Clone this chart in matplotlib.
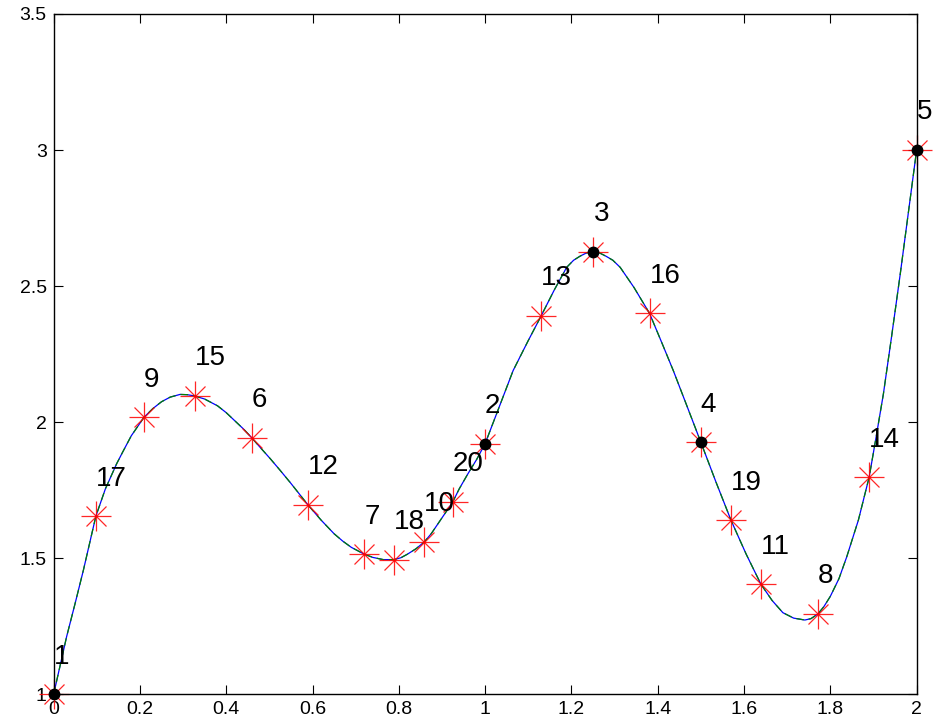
import matplotlib
matplotlib.use("Agg")
import matplotlib.pyplot as plt

plt.rcParams["font.family"] = ["Liberation Sans", "DejaVu Sans"]

# Curve
curve_x = [0.000, 0.015, 0.030, 0.050, 0.069, 0.098, 0.120, 0.146, 0.160, 0.180,
           0.2095, 0.230, 0.250, 0.270, 0.293, 0.310, 0.328, 0.350, 0.380, 0.400,
           0.420, 0.440, 0.459, 0.480, 0.502, 0.525, 0.550, 0.589, 0.620, 0.650,
           0.670, 0.690, 0.720, 0.740, 0.764, 0.789, 0.805, 0.820, 0.840, 0.859,
           0.875, 0.890, 0.905, 0.925, 0.940, 0.960, 0.980, 1.000, 1.030, 1.065,
           1.100, 1.130, 1.160, 1.189, 1.205, 1.220, 1.235, 1.251, 1.265, 1.280,
           1.296, 1.313, 1.345, 1.381, 1.410, 1.436, 1.470, 1.500, 1.535, 1.570,
           1.605, 1.639, 1.665, 1.690, 1.715, 1.741, 1.755, 1.771, 1.785, 1.800,
           1.820, 1.838, 1.865, 1.890, 1.905, 1.923, 1.942, 1.962, 1.980, 2.000]
curve_y = [1.000, 1.105, 1.211, 1.335, 1.456, 1.655, 1.755, 1.847, 1.890, 1.950,
           2.018, 2.050, 2.075, 2.092, 2.102, 2.101, 2.096, 2.085, 2.060, 2.035,
           2.005, 1.975, 1.943, 1.905, 1.866, 1.823, 1.775, 1.697, 1.640, 1.590,
           1.563, 1.540, 1.515, 1.503, 1.495, 1.495, 1.502, 1.515, 1.535, 1.560,
           1.590, 1.625, 1.660, 1.707, 1.755, 1.810, 1.862, 1.921, 2.045, 2.190,
           2.300, 2.391, 2.485, 2.569, 2.595, 2.610, 2.622, 2.626, 2.622, 2.610,
           2.595, 2.569, 2.495, 2.400, 2.290, 2.190, 2.050, 1.926, 1.780, 1.639,
           1.515, 1.405, 1.345, 1.300, 1.280, 1.273, 1.278, 1.295, 1.322, 1.360,
           1.425, 1.505, 1.640, 1.798, 1.935, 2.104, 2.315, 2.544, 2.760, 3.000]

# Numbered sample points (label i+1 belongs to index i)
pt_x = [0.000, 1.000, 1.251, 1.500, 2.000, 0.459, 0.720, 1.771, 0.2095, 0.859,
        1.639, 0.589, 1.130, 1.890, 0.328, 1.381, 0.098, 0.789, 1.570, 0.925]
pt_y = [1.000, 1.921, 2.626, 1.926, 3.000, 1.943, 1.515, 1.295, 2.018, 1.560,
        1.405, 1.697, 2.391, 1.798, 2.096, 2.400, 1.655, 1.495, 1.639, 1.707]
pt_labels = [str(i + 1) for i in range(len(pt_x))]

# First five are the nodes (black dots)
node_x = pt_x[:5]
node_y = pt_y[:5]

x_ticks = [0, 0.2, 0.4, 0.6, 0.8, 1, 1.2, 1.4, 1.6, 1.8, 2]
x_ticklabels = ["0", "0.2", "0.4", "0.6", "0.8", "1", "1.2", "1.4", "1.6", "1.8", "2"]
y_ticks = [1, 1.5, 2, 2.5, 3, 3.5]
y_ticklabels = ["1", "1.5", "2", "2.5", "3", "3.5"]

fig = plt.figure(figsize=(9.34, 7.24), dpi=100)
ax = fig.add_axes([0.0574, 0.041, 0.924, 0.9397])

ax.plot(curve_x, curve_y, color=(0, 0, 1), linewidth=0.9)
ax.plot(curve_x, curve_y, color=(0, 0.5, 0), linewidth=0.9, linestyle=(0, (6, 4)))

# MATLAB style asterisk: a plus with an x on top
ax.plot(pt_x, pt_y, linestyle="none", marker="+", markersize=21, markeredgewidth=0.9,
        color="red", alpha=0.85, clip_on=False)
ax.plot(pt_x, pt_y, linestyle="none", marker="x", markersize=15, markeredgewidth=0.9,
        color="red", alpha=0.85, clip_on=False)
ax.plot(node_x, node_y, linestyle="none", marker="o", markersize=7.5,
        color="black", clip_on=False, zorder=5)

for x, y, s in zip(pt_x, pt_y, pt_labels):
    ax.annotate(s, (x, y), xytext=(0, 22), textcoords="offset points",
                ha="left", va="baseline", fontsize=20, color="black",
                annotation_clip=False)

ax.set_xlim(0, 2)
ax.set_ylim(1, 3.5)
ax.set_xticks(x_ticks)
ax.set_xticklabels(x_ticklabels, fontsize=14)
ax.set_yticks(y_ticks)
ax.set_yticklabels(y_ticklabels, fontsize=14)
ax.tick_params(direction="in", length=6.5, width=0.8, top=True, right=True)
ax.tick_params(axis="x", pad=5)
ax.tick_params(axis="y", pad=5)
for sp in ax.spines.values():
    sp.set_linewidth(1.0)

fig.savefig("out.png", dpi=100)
